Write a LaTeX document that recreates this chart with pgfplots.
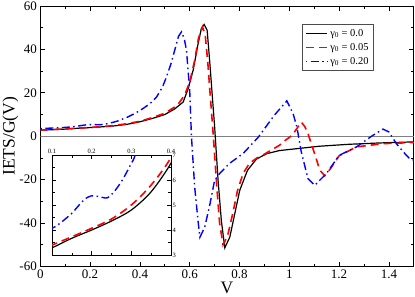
\documentclass[border=0pt]{standalone}
\usepackage{fontspec}
\setmainfont{Liberation Serif}
\usepackage{pgfplots}
\pgfplotsset{compat=1.18}
\usepackage{pgfplotstable}

\pgfplotstableread{
x y
0.00 2.8
0.05 3.02
0.10 3.29
0.15 3.67
0.20 4.0
0.25 4.36
0.30 4.8
0.35 5.53
0.40 6.67
0.45 8.2
0.50 10.0
0.54 12.6
0.574 15.8
0.594 22
0.614 30.5
0.634 42.8
0.647 49.7
0.658 51.5
0.67 48.9
0.68 35
0.69 19.7
0.70 4.6
0.714 -20.3
0.727 -38.8
0.741 -51.4
0.761 -46.5
0.781 -35.7
0.801 -24.9
0.832 -15.7
0.868 -10.5
0.91 -8.0
0.96 -6.6
1.04 -5.6
1.12 -4.6
1.24 -3.7
1.36 -3.1
1.50 -2.6
}\datablack

\pgfplotstableread{
x y
0.00 2.9
0.05 3.12
0.10 3.4
0.15 3.73
0.20 4.07
0.25 4.44
0.30 5.0
0.35 5.8
0.40 6.9
0.45 8.6
0.50 10.6
0.55 14.2
0.58 19
0.60 25
0.62 35
0.635 45
0.651 50.4
0.662 47
0.672 35
0.683 18
0.695 0
0.708 -22
0.72 -40
0.734 -50
0.752 -46
0.772 -36
0.792 -25
0.815 -17
0.84 -12.5
0.87 -10
0.895 -8.6
0.93 -6.2
0.96 -4.2
0.985 -1.8
1.012 0.5
1.03 3.5
1.048 6.5
1.062 4.5
1.075 1.2
1.095 -5.7
1.11 -11
1.122 -15.5
1.142 -18.2
1.165 -15
1.20 -9.0
1.27 -4.9
1.376 -3.4
1.50 -2.9
}\datared

\pgfplotstableread{
x y
0.00 3.5
0.05 3.8
0.10 4.07
0.12 4.27
0.15 4.67
0.18 5.2
0.20 5.37
0.22 5.33
0.24 5.29
0.26 5.6
0.28 6.07
0.30 6.67
0.31 7.0
0.35 8.8
0.38 10.5
0.413 12.8
0.44 15
0.467 18.1
0.49 22.5
0.507 27.4
0.525 33.5
0.54 39.7
0.555 46
0.567 48.1
0.578 45
0.587 39.7
0.60 21
0.607 0
0.62 -23.4
0.634 -39.5
0.641 -46.5
0.66 -42
0.68 -32
0.70 -20.3
0.72 -17.2
0.76 -12.5
0.814 -8
0.875 -0.5
0.94 9.7
0.99 16.3
1.015 10.5
1.03 4.5
1.048 -7.2
1.075 -19.5
1.102 -22.6
1.149 -17.2
1.20 -8.8
1.27 -4.9
1.33 0
1.376 3.3
1.40 2.0
1.43 -3.4
1.46 -7.5
1.483 -10.3
1.50 -11
}\datablue

\begin{document}
\begin{tikzpicture}
\begin{axis}[
  name=main,
  scale only axis,
  width=373.5pt, height=260.5pt,
  xmin=0, xmax=1.5, ymin=-60, ymax=60,
  xtick={0,0.2,0.4,0.6,0.8,1,1.2,1.4},
  ytick={-60,-40,-20,0,20,40,60},
  minor x tick num=1, minor y tick num=1,
  tick align=inside,
  xtick pos=both, ytick pos=both,
  xticklabel pos=lower, yticklabel pos=left,
  major tick length=5pt, minor tick length=3pt,
  every tick/.style={black, line width=0.7pt},
  axis line style={line width=0.9pt},
  /pgf/number format/assume math mode=true,
  tick label style={font=\fontsize{13}{15}\selectfont},
  xlabel={V}, ylabel={IETS/G(V)},
  label style={font=\fontsize{17.5}{20}\selectfont},
  xlabel style={at={(axis description cs:0.5,0)}, anchor=center, yshift=-21.5pt},
  ylabel style={at={(axis description cs:-0.080,0.5)}, anchor=center},
  legend style={at={(axis description cs:0.70,0.931)}, anchor=north west,
    font=\fontsize{10.5}{12}\selectfont, draw=black!70, line width=0.6pt,
    inner xsep=3pt, inner ysep=3pt, row sep=1.5pt,
    /tikz/every even column/.append style={column sep=5pt}},
  legend cell align=left,
  legend image code/.code={\draw[#1] (0pt,0pt) -- (21.6pt,0pt);},
]
\addplot[gray, line width=0.6pt, forget plot] coordinates {(0,0) (1.5,0)};
\addplot[black, line width=1.2pt] table[x=x,y=y] {\datablack};
\addlegendentry{γ\textsubscript{0} = 0.0}
\addplot[red, line width=1.6pt, dash pattern=on 8pt off 5pt] table[x=x,y=y] {\datared};
\addlegendentry{γ\textsubscript{0} = 0.05}
\addplot[blue, line width=1.4pt, dash pattern=on 1.5pt off 3.5pt on 8pt off 3.5pt] table[x=x,y=y] {\datablue};
\addlegendentry{γ\textsubscript{0} = 0.20}
\end{axis}
\begin{axis}[
  at={(main.south west)}, anchor=south west, xshift=11.7pt, yshift=11.5pt,
  scale only axis,
  width=119pt, height=100pt,
  xmin=0.1, xmax=0.4, ymin=3, ymax=7,
  xtick={0.1,0.2,0.3,0.4}, ytick={3,4,5,6,7},
  minor x tick num=1, minor y tick num=1,
  tick align=inside,
  xtick pos=both, ytick pos=both,
  xticklabel pos=upper, yticklabel pos=right,
  major tick length=4pt, minor tick length=2.5pt,
  every tick/.style={black, line width=0.6pt},
  axis line style={line width=0.8pt},
  axis background/.style={fill=white},
  /pgf/number format/assume math mode=true,
  tick label style={font=\fontsize{6.5}{7}\selectfont},
  xticklabel style={inner sep=1pt},
  yticklabel style={inner sep=1.5pt},
]
\addplot[black, line width=1.2pt, smooth, restrict x to domain=0:0.5] table[x=x,y=y] {\datablack};
\addplot[red, line width=1.6pt, smooth, dash pattern=on 8pt off 5pt, restrict x to domain=0:0.5] table[x=x,y=y] {\datared};
\addplot[blue, line width=1.4pt, smooth, dash pattern=on 1.5pt off 3.5pt on 8pt off 3.5pt, restrict x to domain=0:0.45] table[x=x,y=y] {\datablue};
\end{axis}
\pgfresetboundingbox
\path ([xshift=-40.3pt,yshift=-29.5pt]main.south west) rectangle ([xshift=1.2pt,yshift=6pt]main.north east);
\end{tikzpicture}
\end{document}
